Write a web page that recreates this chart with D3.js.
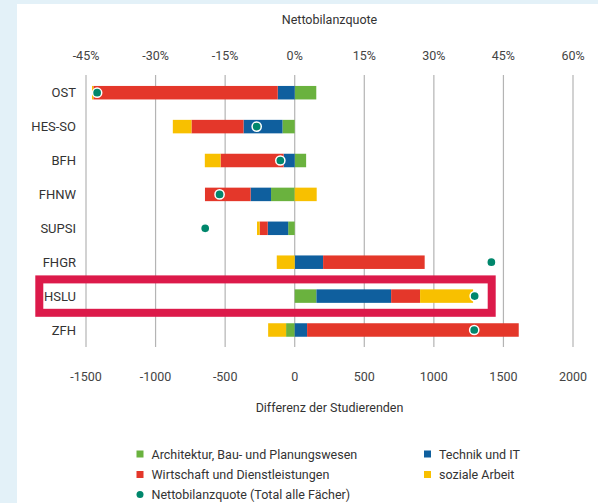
<!DOCTYPE html>
<html><head><meta charset="utf-8">
<script src="https://cdn.jsdelivr.net/npm/d3@7"></script>
<style>
html,body{margin:0;padding:0;background:#e3f1f8;}
svg{display:block;font-family:Roboto,"Noto Sans",sans-serif;}
</style></head>
<body><svg id="c" width="598" height="503"></svg>
<script>
const categories = ["OST","HES-SO","BFH","FHNW","SUPSI","FHGR","HSLU","ZFH"];
const architektur = [155, -88, 82, -170, -47, 0, 156, -62];
const technik = [-122, -280, -80, -147, -147, 204, 537, 89];
const wirtschaft = [-1325, -374, -453, -328, -58, 730, 208, 1521];
const sozialeArbeit = [-10, -134, -113, 158, -19, -129, 381, -129];
const nettobilanzquote = [-42.6, -8.2, -3.1, -16.2, -19.3, 42.4, 38.8, 38.7];
const bottomTicks = [-1500, -1000, -500, 0, 500, 1000, 1500, 2000];
const topTicks = [-45, -30, -15, 0, 15, 30, 45, 60];
const seriesKeys = ["arch","tech","wirt","soz"];
const seriesNames = ["Architektur, Bau- und Planungswesen","Technik und IT","Wirtschaft und Dienstleistungen","soziale Arbeit"];
const seriesColors = ["#6ab23e","#0f5f9e","#e4372a","#f8c000"];
const dotColor = "#00876c";
const dotName = "Nettobilanzquote (Total alle Fächer)";

const rows = categories.map((c,i)=>({cat:c, arch:architektur[i], tech:technik[i], wirt:wirtschaft[i], soz:sozialeArbeit[i], q:nettobilanzquote[i]}));

const svg = d3.select("#c");
svg.append("rect").attr("x",17).attr("y",4).attr("width",598-17).attr("height",503-4).attr("fill","#fff");

const x = d3.scaleLinear().domain([-1500,2000]).range([86,573]);
const xp = d3.scaleLinear().domain([-45,60]).range([86,573]);
const y = d3.scalePoint().domain(categories).range([92.7,330]);
const bh = 13.5;
const gTop = 75, gBot = 347;

// gridlines
svg.append("g").selectAll("line").data(bottomTicks).join("line")
  .attr("x1",d=>x(d)).attr("x2",d=>x(d)).attr("y1",gTop).attr("y2",gBot)
  .attr("stroke","#b4b4b4").attr("stroke-width",1.2);

// top axis labels
svg.append("g").selectAll("text").data(topTicks).join("text")
  .attr("x",d=>xp(d)).attr("y",55).attr("text-anchor","middle").attr("dominant-baseline","central")
  .attr("font-size",12.5).attr("fill","#444").text(d=>d+"%");
svg.append("text").attr("x",(x.range()[0]+x.range()[1])/2).attr("y",19).attr("text-anchor","middle")
  .attr("dominant-baseline","central").attr("font-size",12.5).attr("fill","#333").text("Nettobilanzquote");

// bottom axis labels
svg.append("g").selectAll("text").data(bottomTicks).join("text")
  .attr("x",d=>x(d)).attr("y",376).attr("text-anchor","middle").attr("dominant-baseline","central")
  .attr("font-size",12.5).attr("fill","#444").text(d=>d);
svg.append("text").attr("x",(x.range()[0]+x.range()[1])/2).attr("y",407.5).attr("text-anchor","middle")
  .attr("dominant-baseline","central").attr("font-size",12.5).attr("fill","#333").text("Differenz der Studierenden");

// category labels
svg.append("g").selectAll("text").data(categories).join("text")
  .attr("x",76).attr("y",d=>y(d)).attr("text-anchor","end").attr("dominant-baseline","central")
  .attr("font-size",13).attr("fill","#333").text(d=>d);

// stacked bars
const stack = d3.stack().keys(seriesKeys).offset(d3.stackOffsetDiverging);
const stacked = stack(rows);
svg.append("g").selectAll("g").data(stacked).join("g")
  .attr("fill",(d,i)=>seriesColors[i])
  .selectAll("rect").data(d=>d).join("rect")
  .attr("x",d=>x(Math.min(d[0],d[1])))
  .attr("width",d=>Math.abs(x(d[1])-x(d[0])))
  .attr("y",d=>y(d.data.cat)-bh/2).attr("height",bh);

// dots
svg.append("g").selectAll("circle").data(rows).join("circle")
  .attr("cx",d=>xp(d.q)).attr("cy",d=>y(d.cat)).attr("r",4.6)
  .attr("fill",dotColor).attr("stroke","#fff").attr("stroke-width",1.5);

// highlight box around HSLU
svg.append("rect").attr("x",39.3).attr("y",y("HSLU")-16.7).attr("width",491.7-39.3).attr("height",33.4)
  .attr("fill","none").attr("stroke","#dc1a4a").attr("stroke-width",8);

// legend
const legend = [
  {name:seriesNames[0], color:seriesColors[0], x:136.5, y:454, t:"sq"},
  {name:seriesNames[1], color:seriesColors[1], x:424, y:454, t:"sq"},
  {name:seriesNames[2], color:seriesColors[2], x:136.5, y:474.5, t:"sq"},
  {name:seriesNames[3], color:seriesColors[3], x:424, y:474.5, t:"sq"},
  {name:dotName, color:dotColor, x:136.5, y:494.5, t:"dot"}
];
const lg = svg.append("g").selectAll("g").data(legend).join("g");
lg.filter(d=>d.t==="sq").append("rect").attr("x",d=>d.x).attr("y",d=>d.y-3.5).attr("width",7).attr("height",7).attr("fill",d=>d.color);
lg.filter(d=>d.t==="dot").append("circle").attr("cx",d=>d.x+3.5).attr("cy",d=>d.y).attr("r",3.5).attr("fill",d=>d.color);
lg.append("text").attr("x",d=>d.x+15).attr("y",d=>d.y).attr("dominant-baseline","central")
  .attr("font-size",12.5).attr("fill","#333").text(d=>d.name);
</script></body></html>
